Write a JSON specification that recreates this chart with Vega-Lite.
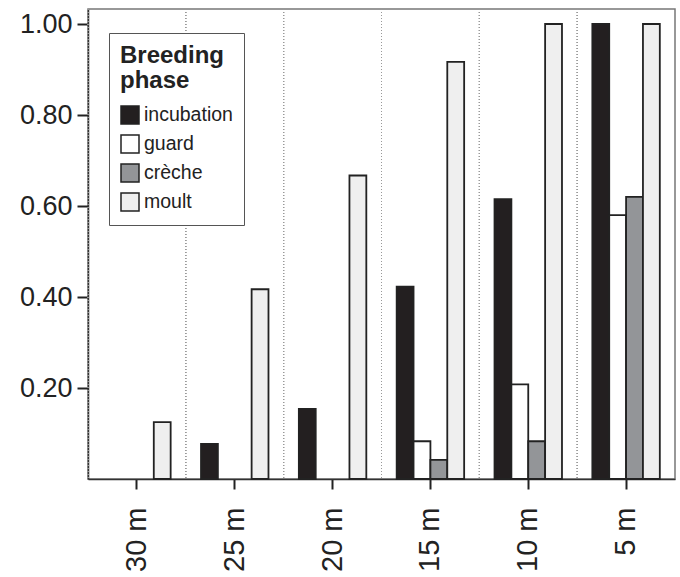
{
  "$schema": "https://vega.github.io/schema/vega-lite/v6.json",
  "width": 587,
  "height": 470,
  "padding": {"left": 5, "top": 8, "right": 5, "bottom": 5},
  "autosize": {"type": "pad"},
  "config": {
    "font": "Liberation Sans",
    "view": {"stroke": "#777", "strokeWidth": 1.5}
  },
  "data": {
    "values": [
      {"depth": "30 m", "phase": "incubation", "value": 0},
      {"depth": "30 m", "phase": "guard", "value": 0},
      {"depth": "30 m", "phase": "crèche", "value": 0},
      {"depth": "30 m", "phase": "moult", "value": 0.125},
      {"depth": "25 m", "phase": "incubation", "value": 0.077},
      {"depth": "25 m", "phase": "guard", "value": 0},
      {"depth": "25 m", "phase": "crèche", "value": 0},
      {"depth": "25 m", "phase": "moult", "value": 0.417},
      {"depth": "20 m", "phase": "incubation", "value": 0.154},
      {"depth": "20 m", "phase": "guard", "value": 0},
      {"depth": "20 m", "phase": "crèche", "value": 0},
      {"depth": "20 m", "phase": "moult", "value": 0.667},
      {"depth": "15 m", "phase": "incubation", "value": 0.423},
      {"depth": "15 m", "phase": "guard", "value": 0.083},
      {"depth": "15 m", "phase": "crèche", "value": 0.042},
      {"depth": "15 m", "phase": "moult", "value": 0.917},
      {"depth": "10 m", "phase": "incubation", "value": 0.615},
      {"depth": "10 m", "phase": "guard", "value": 0.208},
      {"depth": "10 m", "phase": "crèche", "value": 0.083},
      {"depth": "10 m", "phase": "moult", "value": 1.0},
      {"depth": "5 m", "phase": "incubation", "value": 1.0},
      {"depth": "5 m", "phase": "guard", "value": 0.58},
      {"depth": "5 m", "phase": "crèche", "value": 0.62},
      {"depth": "5 m", "phase": "moult", "value": 1.0}
    ]
  },
  "layer": [
    {
      "mark": {"type": "rule", "strokeDash": [1, 2], "color": "#999", "strokeWidth": 1},
      "encoding": {
        "x": {
          "field": "depth",
          "type": "nominal",
          "sort": ["30 m", "25 m", "20 m", "15 m", "10 m", "5 m"],
          "bandPosition": 0
        }
      }
    },
    {
      "mark": {"type": "bar", "strokeWidth": 1.8},
      "encoding": {
        "x": {
          "field": "depth",
          "type": "nominal",
          "sort": ["30 m", "25 m", "20 m", "15 m", "10 m", "5 m"],
          "scale": {"paddingInner": 0, "paddingOuter": 0},
          "axis": {
            "title": null,
            "labelAngle": -90,
            "labelFontSize": 29,
            "labelColor": "#222",
            "labelPadding": 18,
            "tickSize": 10,
            "tickWidth": 2,
            "tickColor": "#222",
            "domainColor": "#333",
            "domainWidth": 1.5,
            "grid": false
          }
        },
        "xOffset": {
          "field": "phase",
          "type": "nominal",
          "sort": ["incubation", "guard", "crèche", "moult"],
          "scale": {"paddingInner": 0, "paddingOuter": 0.9}
        },
        "y": {
          "field": "value",
          "type": "quantitative",
          "scale": {"domain": [0, 1.033], "nice": false},
          "axis": {
            "title": null,
            "values": [0.2, 0.4, 0.6, 0.8, 1.0],
            "format": ".2f",
            "labelFontSize": 27,
            "labelColor": "#222",
            "labelPadding": 5,
            "tickSize": 11,
            "tickWidth": 2,
            "tickColor": "#222",
            "domainColor": "#333",
            "domainWidth": 1.5,
            "grid": false,
            "minExtent": 83,
            "maxExtent": 83
          }
        },
        "stroke": {
          "condition": {"test": "datum.value == 0", "value": null},
          "value": "#222"
        },
        "fill": {
          "field": "phase",
          "type": "nominal",
          "sort": ["incubation", "guard", "crèche", "moult"],
          "scale": {
            "domain": ["incubation", "guard", "crèche", "moult"],
            "range": ["#231f20", "#ffffff", "#939598", "#efefef"]
          },
          "legend": {
            "title": ["Breeding", "phase"],
            "orient": "none",
            "legendX": 21,
            "legendY": 24,
            "titleFontSize": 24,
            "titleFontWeight": "bold",
            "titleLineHeight": 25,
            "titleColor": "#222",
            "titlePadding": 12,
            "labelFontSize": 19.5,
            "labelColor": "#222",
            "labelOffset": 4,
            "symbolType": "square",
            "symbolSize": 324,
            "symbolStrokeColor": "#222",
            "symbolStrokeWidth": 1.5,
            "rowPadding": 5,
            "padding": 11,
            "strokeColor": "#555",
            "fillColor": "white"
          }
        }
      }
    }
  ]
}
